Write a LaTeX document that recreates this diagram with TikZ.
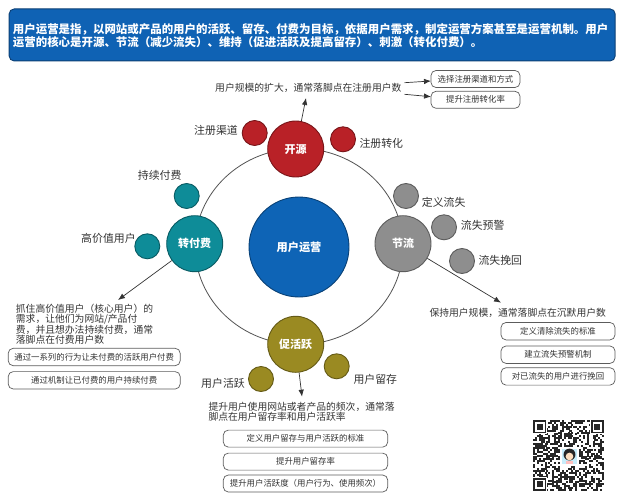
\documentclass[tikz,border=0pt]{standalone}
\usepackage{fontspec}
\setmainfont{Noto Sans CJK SC}
\usetikzlibrary{shapes.geometric,arrows.meta}
\definecolor{bannerblue}{HTML}{0F62B4}
\definecolor{bannerline}{HTML}{0B3F75}
\definecolor{coreblue}{HTML}{0E64B6}
\definecolor{redc}{HTML}{B92127}
\definecolor{greyc}{HTML}{8E8E8E}
\definecolor{tealc}{HTML}{0E8C98}
\definecolor{olivec}{HTML}{9A8A22}
\definecolor{inkc}{HTML}{333333}
\tikzset{
  x=1pt,y=-1pt,
  bigc/.style={circle,draw=#1!65!black,line width=0.9pt,fill=#1,minimum size=56pt,inner sep=0pt,text=white,font=\fontsize{11}{12}\selectfont\bfseries},
  smallc/.style={circle,draw=#1!65!black,line width=0.9pt,fill=#1,minimum size=25pt,inner sep=0pt},
  lab/.style={text=inkc,inner sep=0pt,font=\fontsize{10.9}{12}\selectfont},
  note/.style={text=inkc,inner sep=0pt,align=left,font=\fontsize{9.8}{9.8}\selectfont},
  optbox/.style={draw=inkc!80,line width=0.7pt,rounded corners=5pt,fill=white,text=inkc,inner sep=0pt,font=\fontsize{8.4}{10}\selectfont},
  arrowc/.style={draw=inkc,line width=0.7pt,-{Latex[length=7pt,width=5.5pt]}}
}
\begin{document}
\begin{tikzpicture}
\useasboundingbox (0,0) rectangle (623,500);
% banner
\node[draw=bannerline,line width=0.9pt,fill=bannerblue,rounded corners=5pt,minimum width=606pt,minimum height=52pt,inner sep=0pt,anchor=north west] (banner) at (8.7,8.5) {};
\node[anchor=west,inner sep=0pt,align=left,text=white,font=\fontsize{11.45}{12.7}\selectfont\bfseries] (bannertext) at (12.7,35.3) {用户运营是指，以网站或产品的用户的活跃、留存、付费为目标，依据用户需求，制定运营方案甚至是运营机制。用户\\运营的核心是开源、节流（减少流失）、维持（促进活跃及提高留存）、刺激（转化付费）。};
% ring
\node[ellipse,draw=inkc!85,line width=0.8pt,minimum width=208pt,minimum height=196pt,inner sep=0pt] (ring) at (299,246.5) {};
% circles
\node[circle,draw=coreblue!65!black,line width=0.9pt,fill=coreblue,minimum size=100pt,inner sep=0pt,text=white,font=\fontsize{11.2}{12}\selectfont\bfseries] (core) at (299,247) {用户运营};
\node[bigc=redc] (kaiyuan) at (295.7,149) {开源};
\node[bigc=greyc] (jieliu) at (403,243.7) {节流};
\node[bigc=tealc] (zhuan) at (194.7,243.7) {转付费};
\node[bigc=olivec] (cu) at (295.7,344.3) {促活跃};
\node[smallc=redc] (d1) at (254.7,133) {};
\node[smallc=redc] (d2) at (343,139.3) {};
\node[smallc=greyc] (d3) at (406,196) {};
\node[smallc=greyc] (d4) at (444,227.3) {};
\node[smallc=greyc] (d5) at (462,261) {};
\node[smallc=tealc] (d6) at (186.7,196) {};
\node[smallc=tealc] (d7) at (147.3,246.3) {};
\node[smallc=olivec] (d8) at (261,379) {};
\node[smallc=olivec] (d9) at (336.7,366.3) {};
% labels
\node[lab,anchor=west] (l1) at (194,130.7) {注册渠道};
\node[lab,anchor=west] (l2) at (359.3,143.3) {注册转化};
\node[lab,anchor=west] (l3) at (421.7,202.3) {定义流失};
\node[lab,anchor=west] (l4) at (460.7,225) {流失预警};
\node[lab,anchor=west] (l5) at (478.3,260) {流失挽回};
\node[lab,anchor=west] (l6) at (137.7,175) {持续付费};
\node[lab,anchor=west] (l7) at (81,238) {高价值用户};
\node[lab,anchor=west] (l8) at (201,383.3) {用户活跃};
\node[lab,anchor=west] (l9) at (353.3,379) {用户留存};
% notes
\node[note,anchor=west] (ntop) at (215,88) {用户规模的扩大，通常落脚点在注册用户数};
\node[note,anchor=west] (nright) at (429.3,312.7) {保持用户规模，通常落脚点在沉默用户数};
\node[note,anchor=north west] (nleft) at (15.7,304.3) {抓住高价值用户（核心用户）的\\需求，让他们为网站/产品付\\费，并且想办法持续付费，通常\\落脚点在付费用户数};
\node[note,anchor=north west] (nbottom) at (208.3,402.3) {提升用户使用网站或者产品的频次，通常落\\脚点在用户留存率和用户活跃率};
% option boxes
\node[optbox,minimum width=89pt,minimum height=17pt] (b1) at (475.5,79) {选择注册渠道和方式};
\node[optbox,minimum width=89pt,minimum height=17pt] (b2) at (475.5,99.8) {提升注册转化率};
\node[optbox,minimum width=172pt,minimum height=17.4pt] (b3) at (94.2,357) {通过一系列的行为让未付费的活跃用户付费};
\node[optbox,minimum width=172pt,minimum height=17.4pt] (b4) at (94.2,380.3) {通过机制让已付费的用户持续付费};
\node[optbox,minimum width=164.4pt,minimum height=17pt] (b5) at (305.5,438.6) {定义用户留存与用户活跃的标准};
\node[optbox,minimum width=164.4pt,minimum height=17pt] (b6) at (305.5,461.6) {提升用户留存率};
\node[optbox,minimum width=164.4pt,minimum height=17pt] (b7) at (305.5,483.5) {提升用户活跃度（用户行为、使用频次）};
\node[optbox,minimum width=114pt,minimum height=17.4pt] (b8) at (558,331.2) {定义清除流失的标准};
\node[optbox,minimum width=114pt,minimum height=17.4pt] (b9) at (558,354.7) {建立流失预警机制};
\node[optbox,minimum width=114pt,minimum height=17.4pt] (b10) at (558,376.4) {对已流失的用户进行挽回};
% connector ends
\coordinate (ctop) at (306,98);
\coordinate (cleft) at (118,300);
\coordinate (cright) at (501,302.7);
\coordinate (cbottom) at (302,396.7);
\coordinate (ctopa) at (404.5,82.7);
\coordinate (ctopb) at (404.5,94.3);
\coordinate (bt1) at (431,81);
\coordinate (bt2) at (431,96.7);
\draw[arrowc] (kaiyuan) -- (ctop);
\draw[arrowc] (zhuan) -- (cleft);
\draw[arrowc] (jieliu) -- (cright);
\draw[arrowc] (cu) -- (cbottom);
\draw[arrowc] (ctopa) -- (bt1);
\draw[arrowc] (ctopb) -- (bt2);
% QR code
\begin{scope}[shift={(533,420)},x=1.92pt,y=-1.92pt]
  \pgfmathsetseed{7}
  \foreach \i in {0,...,36}{
    \foreach \j in {0,...,36}{
      \pgfmathtruncatemacro{\on}{rnd<0.5?1:0}
      \ifnum\on=1
        \fill[black!85] (\i,\j) rectangle ++(1.05,1.05);
      \fi
    }
  }
  \foreach \cx/\cy in {0/0,30/0,0/30}{
    \fill[white] (\cx-0.5,\cy-0.5) rectangle ++(8,8);
    \fill[black!85] (\cx,\cy) rectangle ++(7,7);
    \fill[white] (\cx+1,\cy+1) rectangle ++(5,5);
    \fill[black!85] (\cx+2,\cy+2) rectangle ++(3,3);
  }
  % avatar in the centre
  \fill[white] (14,14) rectangle (24,24);
  \fill[cyan!22!white] (15,15) rectangle (23,23);
  \fill[black!85] (19,18) circle (3.1);
  \fill[orange!25!white] (19,19) circle (2);
  \fill[pink] (17,21.5) rectangle (21,23);
\end{scope}
\end{tikzpicture}
\end{document}
